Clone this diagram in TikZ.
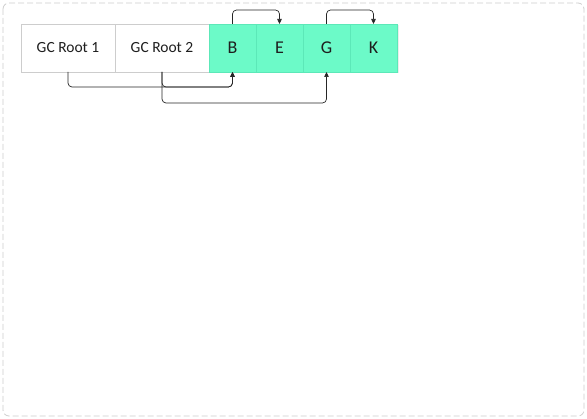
\documentclass[tikz,border=0pt]{standalone}
\usepackage{fontspec}
\setmainfont{Carlito}
\usepackage{tikz}
\usetikzlibrary{arrows.meta,positioning,shadows}

\definecolor{objgreen}{RGB}{108,250,200}
\definecolor{objline}{RGB}{92,232,184}
\definecolor{rootline}{RGB}{205,205,205}
\definecolor{framegray}{RGB}{205,205,205}
\definecolor{txtgray}{RGB}{30,30,30}

\begin{document}
\begin{tikzpicture}[x=1pt, y=-1pt,
    cell/.style={minimum height=48pt, inner sep=0pt, outer sep=0pt,
      text=txtgray, drop shadow={shadow xshift=1.5pt, shadow yshift=-1.5pt, opacity=0.15}},
    rootbox/.style={cell, fill=white, draw=rootline, minimum width=94pt, font=\fontsize{15.5}{17}\selectfont},
    objbox/.style={cell, fill=objgreen, draw=objline, minimum width=47pt, font=\fontsize{18}{20}\selectfont},
    ref/.style={draw=black!85, line width=0.7pt, rounded corners=4pt,
      -{Triangle[length=5pt, width=4.5pt]}}]
    \useasboundingbox (0,0) rectangle (587,419);

    % Frame
    \draw[framegray, dash pattern=on 6pt off 3pt, rounded corners=6pt, line width=0.8pt]
      (3,3) rectangle (584,416);

    % Roots and objects
    \node[rootbox] (root1) at (68,48) {GC Root 1};
    \node[rootbox, right=0pt of root1] (root2) {GC Root 2};
    \node[objbox, right=0pt of root2] (b) {B};
    \node[objbox, right=0pt of b] (e) {E};
    \node[objbox, right=0pt of e] (g) {G};
    \node[objbox, right=0pt of g] (k) {K};

    % References between objects
    \draw[ref] (b.north) -- ++(0,-14) -| (e.north);
    \draw[ref] (g.north) -- ++(0,-14) -| (k.north);

    % References from roots
    \draw[ref] (root1.south) -- ++(0,15) -| (b.south);
    \draw[ref] (root2.south) -- ++(0,15) -| (b.south);
    \draw[ref] (root2.south) -- ++(0,31) -| (g.south);
\end{tikzpicture}
\end{document}
